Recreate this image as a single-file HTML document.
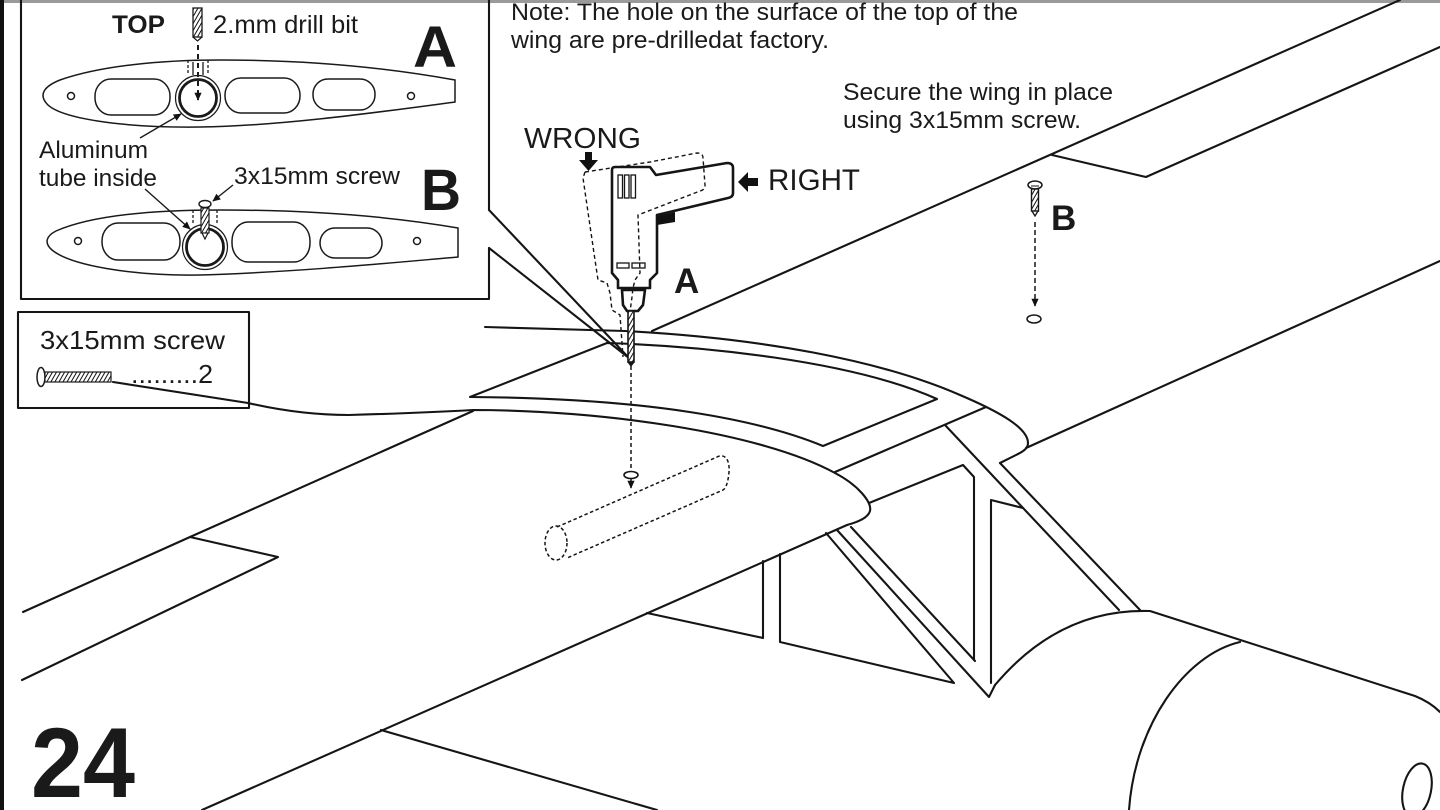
<!DOCTYPE html>
<html><head><meta charset="utf-8"><style>
html,body{margin:0;padding:0;background:#fff;}
svg{display:block;}
text{font-family:"Liberation Sans",Arial,sans-serif;fill:#1a1a1a;}
.b{font-weight:bold;}
</style></head><body>
<svg width="1440" height="810" viewBox="0 0 1440 810" xmlns="http://www.w3.org/2000/svg">
<defs>
<marker id="ah" markerUnits="userSpaceOnUse" viewBox="0 0 10 10" refX="9" refY="5" markerWidth="9" markerHeight="8" orient="auto"><path d="M0,0.5 L10,5 L0,9.5 Z" fill="#111"/></marker>
<pattern id="hatch" width="3.5" height="3.5" patternUnits="userSpaceOnUse" patternTransform="rotate(30)"><rect width="3.5" height="3.5" fill="#fff"/><line x1="0" y1="0" x2="0" y2="3.5" stroke="#111" stroke-width="2"/></pattern>
</defs>
<rect x="0" y="0" width="1440" height="810" fill="#fff"/>
<rect x="0" y="0" width="1440" height="3" fill="#9a9a9a"/>
<rect x="0" y="0" width="4" height="810" fill="#111"/>

<!-- main drawing -->
<g fill="none" stroke="#151515" stroke-width="2.1" stroke-linejoin="round" stroke-linecap="round">
<path d="M1400,0 L652,331"/>
<path d="M1052,155 L1146,177 L1440,47"/>
<path d="M1440,261 L1026,448"/>
<path d="M485,327 L625,331 C760,338 880,360 960,395 C1000,412 1028,428 1028,443 C1028,448 1024,451 1018,454 L1000,463"/>
<path d="M470,397 L607,343 C700,346 850,360 937,399 L823,446 C760,420 650,398 470,397 Z"/>
<path d="M113,382 L248,403 Q300,415 349,415 Q420,413 473,410 C600,410 760,432 835,473 C858,485 872,502 870,511 C868,518 858,522 847,525"/>
<path d="M473,411 L190,537 L23,612"/>
<path d="M190,537 L278,557 L22,680"/>
<path d="M847,525 L202,810"/>
<path d="M381,730 L657,810"/>
<path d="M647,613 L763,638 L763,561"/>
<path d="M780,554 L780,642 L954,683 L826,533"/>
<path d="M837,530 L989,697 L995,685"/>
<path d="M851,527 L975,661"/>
<path d="M869,503 L963,465 L974,477 L974,660"/>
<path d="M991,683 L991,500 L1023,508"/>
<path d="M945,425 L1119,610"/>
<path d="M1000,463 L1140,610"/>
<path d="M835,472 L986,407"/>
<path d="M995,685 Q1060,608 1150,611 L1415,696 Q1430,702 1440,712"/>
<path d="M1240,642 C1185,655 1135,725 1129,810"/>
<ellipse cx="1417" cy="790" rx="14" ry="27" transform="rotate(12 1417 790)"/>
<!-- callout wedge + inset box -->
<path d="M489,210 L629,358 M489,248 L629,358"/>
<path d="M21,0 L21,299 L489,299 L489,248 M489,210 L489,0"/>
<rect x="18" y="312" width="231" height="96"/>
</g>

<!-- dashed tube -->
<g fill="none" stroke="#151515" stroke-width="1.5" stroke-dasharray="3.5,2.5">
<path d="M557,527 L717,457 C725,453 730,460 729,472 C728,483 726,488 723,490 L567,558"/>
<ellipse cx="556" cy="543" rx="11" ry="17"/>
</g>
<!-- dashed drill line and washer -->
<path d="M631,366 L631,488" stroke="#151515" stroke-width="1.5" stroke-dasharray="4,3" fill="none" marker-end="url(#ah)"/>
<ellipse cx="631" cy="475" rx="7" ry="3.5" fill="#fff" stroke="#151515" stroke-width="1.6"/>

<!-- drill WRONG dashed -->
<g fill="none" stroke="#151515" stroke-width="1.4" stroke-dasharray="4,3">
<path d="M585,172 L650,162 L697,153 Q703,153 703,158 L705,185 Q705,190 700,191 L638,215 L640,273 L635,280 L633,288 L632,297 L630,312"/>
<path d="M585,172 L583,178 L595,260 L598,280 L607,283 L610,293 L612,310 L620,315 L623,357"/>
</g>
<!-- drill solid -->
<g fill="none" stroke="#151515" stroke-width="2.6" stroke-linejoin="round">
<path d="M612,170 Q612,167 615,167 L650,167 L656,175 L727,163 Q733,163 733,168 L733,193 Q733,197 728,198 L657,215 L657,273 L650,280 L650,288 L618,288 L618,280 L612,273 Z"/>
<path d="M622,290 L645,290 L643,305 L638,311 L627,311 L623,305 Z"/>
</g>
<rect x="628" y="311" width="6" height="51" fill="url(#hatch)" stroke="#151515" stroke-width="1.6"/>
<path d="M628,362 L631,366 L634,362" fill="#151515" stroke="#151515" stroke-width="1.2"/>
<polygon points="657,216 675,212 675,222 657,225" fill="#111"/>
<g fill="none" stroke="#151515" stroke-width="1.3">
<rect x="618" y="175" width="4.5" height="23"/>
<rect x="624.5" y="175" width="4.5" height="23"/>
<rect x="631" y="175" width="4.5" height="23"/>
<rect x="617" y="263" width="12" height="5"/>
<rect x="632" y="263" width="13" height="5"/>
</g>
<!-- WRONG / RIGHT arrows -->
<polygon points="585,152 592,152 592,160 598,160 588.5,171 579,160 585,160" fill="#111"/>
<polygon points="738,182 748,172 748,178 758,178 758,186 748,186 748,192" fill="#111"/>

<!-- right screw B -->
<ellipse cx="1035" cy="185" rx="7" ry="4" fill="#fff" stroke="#151515" stroke-width="1.5"/>
<path d="M1031,186 L1039,186" stroke="#151515" stroke-width="1"/>
<rect x="1031.5" y="189" width="7" height="22" fill="url(#hatch)" stroke="#151515" stroke-width="1.4"/>
<path d="M1032,211 L1035,216 L1038,211" fill="none" stroke="#151515" stroke-width="1.3"/>
<path d="M1035,222 L1035,306" stroke="#151515" stroke-width="1.5" stroke-dasharray="5,3" fill="none" marker-end="url(#ah)"/>
<ellipse cx="1034" cy="319" rx="7" ry="4" fill="none" stroke="#151515" stroke-width="1.5"/>

<!-- inset airfoils -->
<g fill="none" stroke="#1a1a1a" stroke-width="1.5">
<path d="M455,80 L455,102 C380,112 280,126 200,127 C120,128 60,118 47,104 C38,94 45,86 60,80 C100,66 160,60 220,60 C320,60 400,70 455,80 Z"/>
<circle cx="71" cy="96" r="3.5"/>
<circle cx="411" cy="96" r="3.5"/>
<rect x="95" y="79" width="75" height="36" rx="16" ry="17"/>
<rect x="225" y="78" width="75" height="35" rx="16" ry="17"/>
<rect x="313" y="79" width="62" height="31" rx="15" ry="15"/>
<circle cx="198" cy="98" r="22.5" stroke-width="1.2"/>
<circle cx="198" cy="98" r="18.5" stroke-width="2.8"/>
<path d="M458,228 L458,257 C400,262 300,272 200,275 C130,276 70,265 52,250 C44,243 46,236 56,231 C90,216 150,210 220,210 C320,210 400,218 458,228 Z"/>
<circle cx="78" cy="241" r="3.5"/>
<circle cx="417" cy="241" r="3.5"/>
<rect x="102" y="223" width="78" height="37" rx="16" ry="18"/>
<rect x="232" y="222" width="78" height="40" rx="16" ry="19"/>
<rect x="320" y="228" width="62" height="30" rx="15" ry="15"/>
<circle cx="205" cy="247" r="22.5" stroke-width="1.2"/>
<circle cx="205" cy="247" r="18.5" stroke-width="2.8"/>
</g>
<!-- inset A drill bit and hatch -->
<rect x="193" y="8" width="9" height="29" fill="url(#hatch)" stroke="#1a1a1a" stroke-width="1.3"/>
<path d="M193,37 L197.5,41 L202,37" fill="none" stroke="#1a1a1a" stroke-width="1.2"/>
<path d="M198,45 L198,100" stroke="#1a1a1a" stroke-width="2" stroke-dasharray="5,4" fill="none" marker-end="url(#ah)"/>
<g stroke="#1a1a1a" stroke-width="1.3" fill="none">
<path d="M188,60 L188,75 M208,60 L208,75" stroke-dasharray="3,2"/>
<path d="M193,62 L193,75 M203,62 L203,75"/>
</g>
<!-- inset B screw -->
<path d="M193,210 L193,224 M217,210 L217,224" stroke="#1a1a1a" stroke-width="1.3" stroke-dasharray="3,2" fill="none"/>
<ellipse cx="205" cy="204" rx="6" ry="3.5" fill="#fff" stroke="#1a1a1a" stroke-width="1.4"/>
<rect x="201" y="208" width="8" height="25" fill="url(#hatch)" stroke="#1a1a1a" stroke-width="1.2"/>
<path d="M202,233 L205,239 L208,233" fill="none" stroke="#1a1a1a" stroke-width="1.2"/>
<!-- inset leaders -->
<g stroke="#1a1a1a" stroke-width="1.4" fill="none">
<path d="M140,138 L181,114" marker-end="url(#ah)"/>
<path d="M145,189 L190,229" marker-end="url(#ah)"/>
<path d="M233,185 L213,201" marker-end="url(#ah)"/>
</g>

<!-- parts box screw -->
<ellipse cx="41" cy="377" rx="4" ry="9.5" fill="#fff" stroke="#1a1a1a" stroke-width="1.5"/>
<rect x="45" y="372" width="66" height="10" fill="url(#hatch)" stroke="#1a1a1a" stroke-width="1.2"/>

<!-- texts -->
<text x="511" y="20" font-size="24" textLength="507" lengthAdjust="spacingAndGlyphs">Note: The hole on the surface of the top of the</text>
<text x="511" y="48" font-size="24" textLength="318" lengthAdjust="spacingAndGlyphs">wing are pre-drilledat factory.</text>
<text x="843" y="100" font-size="24" textLength="270" lengthAdjust="spacingAndGlyphs">Secure the wing in place</text>
<text x="843" y="128" font-size="24" textLength="238" lengthAdjust="spacingAndGlyphs">using 3x15mm screw.</text>
<text x="524" y="148" font-size="29" textLength="117" lengthAdjust="spacingAndGlyphs">WRONG</text>
<text x="768" y="190" font-size="30" textLength="92" lengthAdjust="spacingAndGlyphs">RIGHT</text>
<text class="b" x="674" y="293" font-size="35">A</text>
<text class="b" x="1051" y="230" font-size="35">B</text>

<text class="b" x="112" y="33" font-size="25" textLength="53" lengthAdjust="spacingAndGlyphs">TOP</text>
<text x="213" y="33" font-size="25" textLength="145" lengthAdjust="spacingAndGlyphs">2.mm drill bit</text>
<text class="b" x="413" y="67" font-size="58" textLength="44" lengthAdjust="spacingAndGlyphs">A</text>
<text x="39" y="158" font-size="24" textLength="109" lengthAdjust="spacingAndGlyphs">Aluminum</text>
<text x="39" y="186" font-size="24" textLength="118" lengthAdjust="spacingAndGlyphs">tube inside</text>
<text x="234" y="184" font-size="24" textLength="166" lengthAdjust="spacingAndGlyphs">3x15mm screw</text>
<text class="b" x="421" y="210" font-size="58" textLength="40" lengthAdjust="spacingAndGlyphs">B</text>

<text x="40" y="349" font-size="26" textLength="185" lengthAdjust="spacingAndGlyphs">3x15mm screw</text>
<text x="131" y="383" font-size="26" textLength="82" lengthAdjust="spacingAndGlyphs">.........2</text>

<text class="b" x="31" y="797" font-size="99" textLength="104" lengthAdjust="spacingAndGlyphs">24</text>
</svg>
</body></html>
